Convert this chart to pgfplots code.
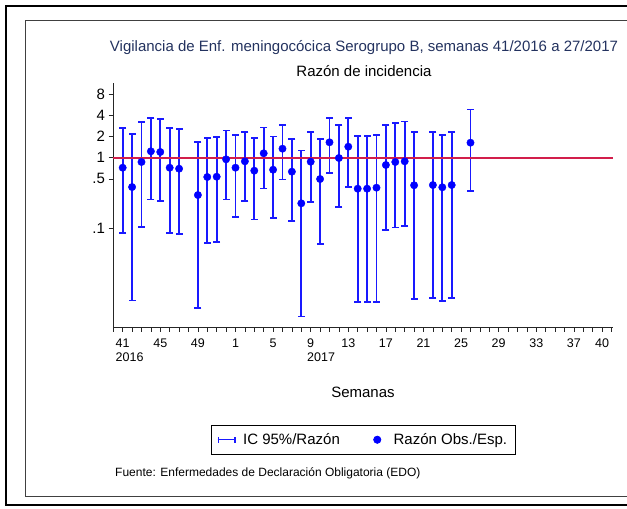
\documentclass[border=0pt]{standalone}
\usepackage{fontspec}
\setmainfont{Liberation Sans}
\usepackage{pgfplots}
\pgfplotsset{compat=1.18}
\usepackage{pgfplotstable}
\definecolor{titleblue}{RGB}{35,50,95}
\definecolor{refred}{RGB}{210,30,75}
\definecolor{barblue}{RGB}{25,25,255}

\pgfplotstableread{
x y lo hi
0 0.721 0.0852 2.64
1 0.383 0.00942 2.17
2 0.869 0.1047 3.21
3 1.233 0.2565 3.70
4 1.205 0.245 3.55
5 0.721 0.0852 2.64
6 0.698 0.0825 2.58
8 0.295 0.00733 1.67
9 0.532 0.0620 1.92
10 0.537 0.0635 1.95
11 0.949 0.2565 2.45
12 0.721 0.145 2.12
13 0.889 0.245 2.32
14 0.654 0.133 1.92
15 1.155 0.367 2.67
16 0.675 0.139 2.01
17 1.342 0.493 2.94
18 0.633 0.127 1.86
19 0.225 0.00559 1.27
20 0.877 0.237 2.30
21 0.498 0.0594 1.84
22 1.655 0.606 3.66
23 0.99 0.201 2.91
24 1.433 0.383 3.69
25 0.363 0.0090 2.05
26 0.363 0.0090 2.05
27 0.375 0.0090 2.10
28 0.788 0.0931 2.91
29 0.869 0.1026 3.14
30 0.889 0.107 3.25
31 0.406 0.00993 2.30
33 0.409 0.0101 2.30
34 0.380 0.0093 2.12
35 0.409 0.0101 2.32
37 1.633 0.336 4.81
}\datatab

\begin{document}
\begin{tikzpicture}[x=1pt,y=1pt]
\useasboundingbox (0,0) rectangle (627,509);
\draw[line width=2pt] (6,4) rectangle (700,503);
\draw[line width=0.8pt, black!75] (25,12.3) rectangle (700,489);
\begin{axis}[
  at={(113pt,182pt)}, anchor=south west,
  scale only axis, width=500pt, height=244pt,
  ymode=log, ymin=0.00394, ymax=11.51,
  xmin=-1.03, xmax=52.16,
  axis x line=bottom, axis y line=left,
  x axis line style={-}, y axis line style={-},
  axis line style={line width=0.8pt, black!85},
  tick align=outside,
  major tick length=4.5pt, minor tick length=4.5pt,
  tick style={line width=0.7pt, black!85},
  xtick={0,4,8,12,16,20,24,28,32,36,40,44,48,51},
  xticklabels={{41\\\rlap{2016}\phantom{41}},45,49,1,5,{9\\\rlap{2017}\phantom{9}},13,17,21,25,29,33,37,40},
  minor xtick={-1,0,...,52},
  ytick={0.1,0.5,1,2,4,8},
  yticklabels={.1,.5,1,2,4,8},
  yminorticks=false,
  xticklabel style={font=\fontsize{12.5}{13.5}\selectfont, align=center, yshift=-4pt},
  yticklabel style={font=\fontsize{15}{16}\selectfont},
  /pgf/number format/assume math mode=true,
  legend columns=2,
  legend style={at={(0.5,-0.462)}, anchor=center, draw=black, line width=0.8pt,
    font=\fontsize{15}{16}\selectfont, inner xsep=6pt, inner ysep=6pt,
    /tikz/every odd column/.append style={column sep=5pt},
    /tikz/every even column/.append style={column sep=26pt}},
]
\addplot[barblue, line width=1.8pt, unbounded coords=jump,
  legend image code/.code={\draw[barblue,line width=1.2pt] (0pt,0pt)--(18pt,0pt) (0.6pt,-3pt)--(0.6pt,3pt) (17.4pt,-3pt)--(17.4pt,3pt);}]
coordinates {
(0,0.0852) (0,2.64) (0,nan)
(1,0.00942) (1,2.17) (1,nan)
(2,0.1047) (2,3.21) (2,nan)
(3,0.2565) (3,3.70) (3,nan)
(4,0.245) (4,3.55) (4,nan)
(5,0.0852) (5,2.64) (5,nan)
(6,0.0825) (6,2.58) (6,nan)
(8,0.00733) (8,1.67) (8,nan)
(9,0.0620) (9,1.92) (9,nan)
(10,0.0635) (10,1.95) (10,nan)
(11,0.2565) (11,2.45) (11,nan)
(12,0.145) (12,2.12) (12,nan)
(13,0.245) (13,2.32) (13,nan)
(14,0.133) (14,1.92) (14,nan)
(15,0.367) (15,2.67) (15,nan)
(16,0.139) (16,2.01) (16,nan)
(17,0.493) (17,2.94) (17,nan)
(18,0.127) (18,1.86) (18,nan)
(19,0.00559) (19,1.27) (19,nan)
(20,0.237) (20,2.30) (20,nan)
(21,0.0594) (21,1.84) (21,nan)
(22,0.606) (22,3.66) (22,nan)
(23,0.201) (23,2.91) (23,nan)
(24,0.383) (24,3.69) (24,nan)
(25,0.0090) (25,2.05) (25,nan)
(26,0.0090) (26,2.05) (26,nan)
(27,0.0090) (27,2.10) (27,nan)
(28,0.0931) (28,2.91) (28,nan)
(29,0.1026) (29,3.14) (29,nan)
(30,0.107) (30,3.25) (30,nan)
(31,0.00993) (31,2.30) (31,nan)
(33,0.0101) (33,2.30) (33,nan)
(34,0.0093) (34,2.12) (34,nan)
(35,0.0101) (35,2.32) (35,nan)
(37,0.336) (37,4.81)
};
\addlegendentry{IC 95\%/Razón}
\addplot[forget plot, only marks, mark=-, mark size=3.5pt, barblue, mark options={line width=1.6pt}] table[x=x,y=lo]{\datatab};
\addplot[forget plot, only marks, mark=-, mark size=3.5pt, barblue, mark options={line width=1.6pt}] table[x=x,y=hi]{\datatab};
\addplot[forget plot, refred, line width=2pt] coordinates {(-1.03,1) (52.16,1)};
\addplot[only marks, mark=*, mark size=3.7pt, blue, mark options={draw=blue, fill=blue},
  legend image code/.code={\fill[blue] (9pt,0pt) circle (3.6pt); \path (0pt,0pt) (18pt,0pt);}]
  table[x=x,y=y]{\datatab};
\addlegendentry{Razón Obs./Esp.}
\end{axis}
\node[titleblue, font=\fontsize{15}{18}\selectfont] at (364,461) {Vigilancia de Enf. meningocócica Serogrupo B, semanas 41/2016 a 27/2017};
\node[font=\fontsize{15}{18}\selectfont] at (364,438) {Razón de incidencia};
\node[font=\fontsize{15}{18}\selectfont] at (363,117) {Semanas};
\node[anchor=west, inner sep=0pt, font=\fontsize{12}{14}\selectfont] at (115,36) {Fuente: Enfermedades de Declaración Obligatoria (EDO)};
\end{tikzpicture}
\end{document}
